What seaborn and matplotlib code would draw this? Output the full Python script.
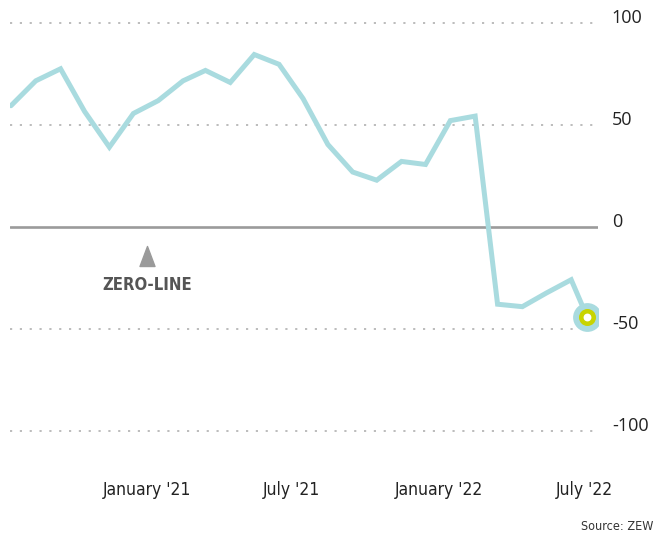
import numpy as np
import pandas as pd
import matplotlib
matplotlib.use("Agg")
import matplotlib.pyplot as plt
import matplotlib.dates as mdates
from matplotlib.path import Path
import seaborn as sns

# ZEW economic sentiment, monthly
dates = ["2020-07-15", "2020-08-15", "2020-09-15", "2020-10-15", "2020-11-15", "2020-12-15",
         "2021-01-15", "2021-02-15", "2021-03-15", "2021-04-15", "2021-05-15", "2021-06-15",
         "2021-07-15", "2021-08-15", "2021-09-15", "2021-10-15", "2021-11-15", "2021-12-15",
         "2022-01-15", "2022-02-15", "2022-03-15", "2022-04-15", "2022-05-15", "2022-06-15",
         "2022-07-05"]
values = [59.3, 71.5, 77.4, 56.5, 39.0, 55.5,
          61.8, 71.5, 76.6, 70.7, 84.4, 79.6,
          62.8, 40.3, 26.8, 22.8, 32.0, 30.5,
          52.0, 54.2, -38.0, -39.2, -32.5, -26.0,
          -44.3]

tick_dates = ["2021-01-01", "2021-07-01", "2022-01-01", "2022-07-01"]
tick_labels = ["January '21", "July '21", "January '22", "July '22"]
grid_values = [100, 50, -50, -100]
y_labels = [100, 50, 0, -50, -100]

df = pd.DataFrame({"date": pd.to_datetime(dates), "value": values})

sns.set_style("white")
plt.rcParams["font.family"] = ["DejaVu Sans"]
plt.rcParams["font.stretch"] = "condensed"

line_col = "#a9dbdf"
fig = plt.figure(figsize=(6.56, 5.33), dpi=100)
ax = fig.add_axes([10 / 656, 74 / 533, 588 / 656, 459 / 533])

# gridlines first
for v in grid_values:
    ax.axhline(v, color="#b0b0b0", lw=1.2, ls=(0, (1.3, 4.6)), zorder=1)
ax.axhline(0, color="#9b9b9b", lw=1.9, zorder=1)

sns.lineplot(data=df, x="date", y="value", ax=ax, color=line_col, linewidth=3.6,
             solid_joinstyle="miter", zorder=3)

# highlight last point
last = df.iloc[-1]
ax.scatter([last["date"]], [last["value"]], s=430, color=line_col, zorder=4, linewidths=0)
ax.scatter([last["date"]], [last["value"]], s=150, color="#c8d400", zorder=5, linewidths=0)
ax.scatter([last["date"]], [last["value"]], s=32, color="white", zorder=6, linewidths=0)

# axis limits (pixel mapping from reference)
ref = mdates.date2num(pd.Timestamp("2021-01-01"))
ppd = 437 / 546
ax.set_xlim(ref - (147 - 10) / ppd, ref + (598 - 147) / ppd)
ax.set_ylim(-(459 - 226.7) / 2.04, 226.7 / 2.04)

ax.set_xticks(mdates.date2num(pd.to_datetime(tick_dates)))
ax.set_xticklabels(tick_labels, fontsize=12.5, color="#222222")
ax.tick_params(axis="x", direction="in", length=11.5, width=0.8, color="#aaaaaa", pad=16)
ax.set_yticks([])
ax.set_xlabel("")
ax.set_ylabel("")
for s in ax.spines.values():
    s.set_visible(False)

for v in y_labels:
    ax.annotate(str(v), xy=(1, v), xycoords=ax.get_yaxis_transform(),
                xytext=(10, 3.5), textcoords="offset points", ha="left", va="center",
                fontsize=13, color="#222222", family=["Open Sans", "DejaVu Sans"],
                fontstretch="normal")

# zero-line note
tri = Path([(-0.375, -0.5), (0.375, -0.5), (0, 0.5), (-0.375, -0.5)],
           [Path.MOVETO, Path.LINETO, Path.LINETO, Path.CLOSEPOLY])
ax.plot([ref], [-14.4], marker=tri, markersize=14.4, color="#9a9a9a", lw=0, zorder=3)
ax.text(ref, -28.4, "ZERO-LINE", ha="center", va="center", fontsize=12,
        fontweight="bold", color="#555555")

fig.text(653 / 656, 1 - 526 / 533, "Source: ZEW", ha="right", va="center",
         fontsize=9, color="#333333")

fig.savefig("out.png", dpi=100)
